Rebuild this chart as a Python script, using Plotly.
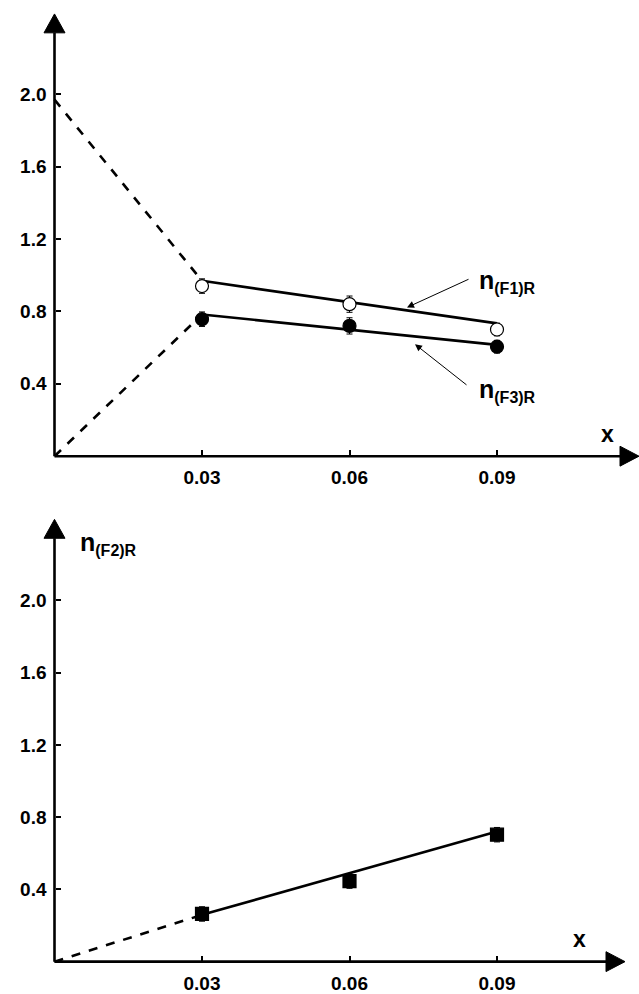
import plotly.graph_objects as go

# ---------------- data ----------------
x_pts = [0.03, 0.06, 0.09]
f1_vals = [0.94, 0.84, 0.70]
f1_err = [0.04, 0.045, 0.035]
f3_vals = [0.757, 0.72, 0.605]
f3_err = [0.04, 0.045, 0.035]
f1_fit_x = [0.03, 0.09]
f1_fit_y = [0.969, 0.734]
f3_fit_x = [0.03, 0.09]
f3_fit_y = [0.783, 0.615]
f1_extrap_x = [0.0, 0.03]
f1_extrap_y = [1.97, 0.969]
f3_extrap_x = [0.0, 0.03]
f3_extrap_y = [0.0, 0.783]

f2_vals = [0.264, 0.446, 0.703]
f2_err = [0.04, 0.04, 0.04]
f2_fit_x = [0.03, 0.09]
f2_fit_y = [0.259, 0.72]
f2_extrap_x = [0.0, 0.03]
f2_extrap_y = [0.0, 0.259]

x_ticks = [0.03, 0.06, 0.09]
x_ticktext = ["0.03", "0.06", "0.09"]
y_ticks = [0.4, 0.8, 1.2, 1.6, 2.0]
y_ticktext = ["0.4", "0.8", "1.2", "1.6", "2.0"]

# ---------------- layout geometry ----------------
W, H = 639, 994
X0PX = 54.5            # pixel of x = 0
XSCALE = 147.5 / 0.03  # px per unit x
x_range = [-X0PX / XSCALE, (W - X0PX) / XSCALE]

TOP_Y0PX = 458.5
BOT_Y0PX = 966.5
YSCALE_T = 181.9
YSCALE_B = 181.5
top_range = [(TOP_Y0PX - 497) / YSCALE_T, TOP_Y0PX / YSCALE_T]
bot_range = [(BOT_Y0PX - 994) / YSCALE_B, (BOT_Y0PX - 497) / YSCALE_B]

FONT = "Liberation Sans, Arial, Helvetica, sans-serif"
LW = 2.6

fig = go.Figure()

def line(xs, ys, xa, ya, dash="solid"):
    fig.add_trace(go.Scatter(x=xs, y=ys, xaxis=xa, yaxis=ya, mode="lines",
                             line=dict(color="black", width=LW, dash=dash),
                             hoverinfo="skip", showlegend=False))

def pts(ys, err, xa, ya, symbol, fill):
    fig.add_trace(go.Scatter(x=x_pts, y=ys, xaxis=xa, yaxis=ya, mode="markers",
                             marker=dict(symbol=symbol, size=13, color=fill,
                                         line=dict(color="black", width=1.2)),
                             error_y=dict(type="data", array=err, visible=True,
                                          color="black", thickness=1, width=3),
                             showlegend=False))

# top panel
line(f1_extrap_x, f1_extrap_y, "x", "y", dash="dash")
line(f3_extrap_x, f3_extrap_y, "x", "y", dash="dash")
line(f1_fit_x, f1_fit_y, "x", "y")
line(f3_fit_x, f3_fit_y, "x", "y")
pts(f1_vals, f1_err, "x", "y", "circle", "white")
pts(f3_vals, f3_err, "x", "y", "circle", "black")

# bottom panel
line(f2_extrap_x, f2_extrap_y, "x2", "y2", dash="dash")
line(f2_fit_x, f2_fit_y, "x2", "y2")
pts(f2_vals, f2_err, "x2", "y2", "square", "black")

tickfont = dict(family=FONT, size=19, color="black", weight="bold")

def xaxis_cfg(pos):
    return dict(range=x_range, domain=[0, 1], anchor="free", position=pos,
                showgrid=False, zeroline=False, showline=False,
                tickvals=x_ticks, ticktext=x_ticktext, ticks="inside",
                ticklen=6, tickwidth=2, tickcolor="black", tickfont=tickfont,
                ticklabelstandoff=8, fixedrange=True)

def yaxis_cfg(rng, dom):
    return dict(range=rng, domain=dom, anchor="free", position=X0PX / W,
                showgrid=False, zeroline=False, showline=False,
                tickvals=y_ticks, ticktext=y_ticktext, ticks="inside",
                ticklen=5, tickwidth=2, tickcolor="black", tickfont=tickfont,
                ticklabelstandoff=8, fixedrange=True)

fig.update_layout(
    width=W, height=H, margin=dict(l=0, r=0, t=0, b=0),
    paper_bgcolor="white", plot_bgcolor="white", showlegend=False,
    xaxis=xaxis_cfg(1 - TOP_Y0PX / H),
    yaxis=yaxis_cfg(top_range, [0.5, 1.0]),
    xaxis2=xaxis_cfg(1 - BOT_Y0PX / H),
    yaxis2=yaxis_cfg(bot_range, [0.0, 0.5]),
)

def px2x(px):
    return (px - X0PX) / XSCALE

shapes = []
def axes_shapes(xr, yr, y_tip_px, y_base_px, x_tip_px, x_base_px, y0px, yscale):
    ytip = (y0px - y_tip_px) / yscale
    ybase = (y0px - y_base_px) / yscale
    xtip = px2x(x_tip_px)
    xbase = px2x(x_base_px)
    hw = 10.5 / XSCALE
    hh = 10.0 / yscale
    shapes.append(dict(type="line", xref=xr, yref=yr, x0=0, x1=0, y0=0, y1=ybase,
                       line=dict(color="black", width=LW)))
    shapes.append(dict(type="line", xref=xr, yref=yr, x0=0, x1=xbase, y0=0, y1=0,
                       line=dict(color="black", width=LW)))
    shapes.append(dict(type="path", xref=xr, yref=yr,
                       path=f"M {-hw} {ybase} L {hw} {ybase} L 0 {ytip} Z",
                       fillcolor="black", line=dict(color="black", width=1)))
    shapes.append(dict(type="path", xref=xr, yref=yr,
                       path=f"M {xbase} {-hh} L {xbase} {hh} L {xtip} 0 Z",
                       fillcolor="black", line=dict(color="black", width=1)))

axes_shapes("x", "y", 14, 33, 639, 620, TOP_Y0PX, YSCALE_T)
axes_shapes("x2", "y2", 522, 541, 625, 606, BOT_Y0PX, YSCALE_B)
fig.update_layout(shapes=shapes)

big = dict(family=FONT, size=25, color="black", weight="bold")
xlab = dict(family=FONT, size=23, color="black", weight="bold")

def ntext(sub):
    return f"n<sub><span style='font-size:16px'>{sub}</span></sub>"

annots = [
    dict(x=px2x(607), y=(TOP_Y0PX - 436) / YSCALE_T, xref="x", yref="y", text="x",
         showarrow=False, font=xlab, xanchor="center", yanchor="middle"),
    dict(x=px2x(579), y=(BOT_Y0PX - 944) / YSCALE_B, xref="x2", yref="y2", text="x",
         showarrow=False, font=xlab, xanchor="center", yanchor="middle"),
    dict(x=px2x(477), y=(TOP_Y0PX - 283) / YSCALE_T, xref="x", yref="y",
         text=ntext("(F1)R"), showarrow=False, font=big,
         xanchor="left", yanchor="middle"),
    dict(x=px2x(477), y=(TOP_Y0PX - 392) / YSCALE_T, xref="x", yref="y",
         text=ntext("(F3)R"), showarrow=False, font=big,
         xanchor="left", yanchor="middle"),
    dict(x=px2x(78), y=(BOT_Y0PX - 546) / YSCALE_B, xref="x2", yref="y2",
         text=ntext("(F2)R"), showarrow=False, font=big,
         xanchor="left", yanchor="middle"),
    dict(x=px2x(407), y=(TOP_Y0PX - 309) / YSCALE_T,
         ax=px2x(470), ay=(TOP_Y0PX - 280) / YSCALE_T,
         xref="x", yref="y", axref="x", ayref="y", text="",
         showarrow=True, arrowhead=2, arrowsize=1.4, arrowwidth=1, arrowcolor="black"),
    dict(x=px2x(415), y=(TOP_Y0PX - 346) / YSCALE_T,
         ax=px2x(468), ay=(TOP_Y0PX - 388) / YSCALE_T,
         xref="x", yref="y", axref="x", ayref="y", text="",
         showarrow=True, arrowhead=2, arrowsize=1.4, arrowwidth=1, arrowcolor="black"),
]
fig.update_layout(annotations=annots)

post = (
    "document.body.style.margin='0';document.body.style.padding='0';"
    "document.documentElement.style.overflow='hidden';"
    "document.body.style.overflow='hidden';"
)

fig.write_html("out.html", config={"displayModeBar": False}, post_script=post)
